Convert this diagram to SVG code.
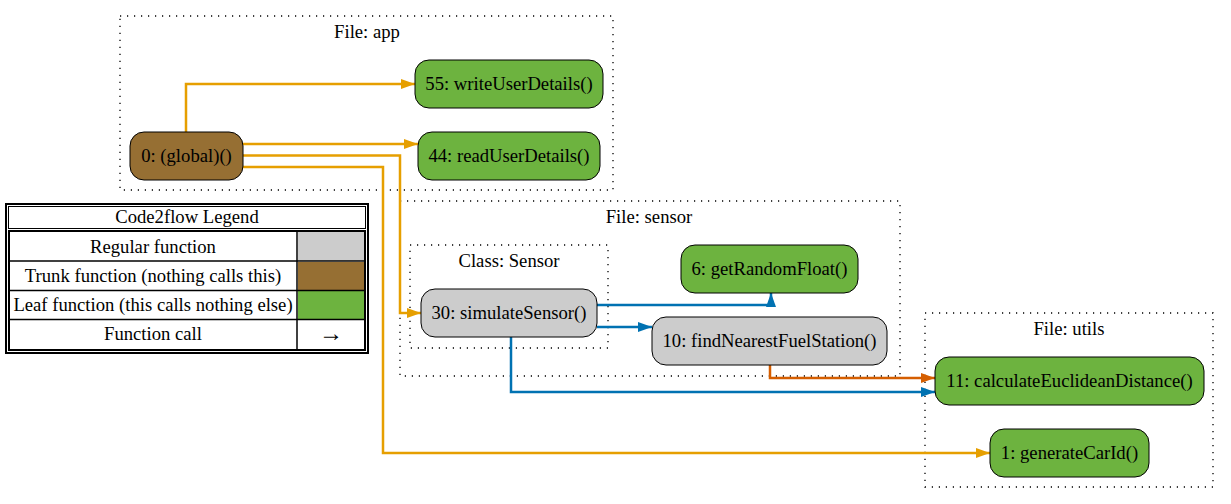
<svg xmlns="http://www.w3.org/2000/svg" width="1231" height="504" viewBox="0 0 1231 504" font-family="Liberation Serif, Times New Roman, serif" font-size="18.67">
<style>
text{fill:#000;text-anchor:middle}
.cl{fill:none;stroke:#000;stroke-width:1.3;stroke-dasharray:1.2,5.8}
.n rect{stroke:#000;stroke-width:1}
.reg{fill:#cccccc}.trunk{fill:#966F33}.leaf{fill:#6db33f}
.e{fill:none;stroke-width:2.5}
.o{stroke:#E69F00}.b{stroke:#0072B2}.r{stroke:#D55E00}
</style>
<defs>
<marker id="ao" markerUnits="userSpaceOnUse" markerWidth="14" markerHeight="10" refX="14" refY="5" orient="auto"><path d="M0,0 L14,5 L0,10 z" fill="#E69F00"/></marker>
<marker id="ab" markerUnits="userSpaceOnUse" markerWidth="14" markerHeight="10" refX="14" refY="5" orient="auto"><path d="M0,0 L14,5 L0,10 z" fill="#0072B2"/></marker>
<marker id="ar" markerUnits="userSpaceOnUse" markerWidth="14" markerHeight="10" refX="14" refY="5" orient="auto"><path d="M0,0 L14,5 L0,10 z" fill="#D55E00"/></marker>
</defs>
<rect width="1231" height="504" fill="#fff"/>

<g id="clusters">
<rect class="cl" x="120" y="16" width="493" height="174"/>
<text x="367" y="38">File: app</text>
<rect class="cl" x="400" y="201" width="500" height="175"/>
<text x="649" y="223">File: sensor</text>
<rect class="cl" x="410" y="245" width="198" height="103"/>
<text x="509" y="267">Class: Sensor</text>
<rect class="cl" x="925" y="313" width="288" height="174"/>
<text x="1069" y="335">File: utils</text>
</g>

<g id="legend">
<rect x="6" y="204" width="362" height="149" fill="#fff" stroke="#000" stroke-width="2"/>
<rect x="8.5" y="206.5" width="357" height="22" fill="#fff" stroke="#000" stroke-width="1"/>
<text x="187" y="223">Code2flow Legend</text>
<rect x="9" y="231" width="356" height="119" fill="#fff" stroke="#000" stroke-width="2"/>
<rect x="298" y="232" width="66" height="29" fill="#cccccc"/>
<rect x="298" y="262" width="66" height="28" fill="#966F33"/>
<rect x="298" y="291" width="66" height="28" fill="#6db33f"/>
<g stroke="#000" stroke-width="1.5">
<line x1="9" y1="261" x2="365" y2="261"/>
<line x1="9" y1="290.5" x2="365" y2="290.5"/>
<line x1="9" y1="319.5" x2="365" y2="319.5"/>
<line x1="297" y1="231" x2="297" y2="350"/>
</g>
<text x="153" y="253">Regular function</text>
<text x="153" y="282">Trunk function (nothing calls this)</text>
<text x="153" y="311">Leaf function (this calls nothing else)</text>
<text x="153" y="340">Function call</text>
<text x="331" y="341" font-size="24">→</text>
</g>

<g id="connectors">
<path class="e o" d="M186,132 V84 H415" marker-end="url(#ao)"/>
<path class="e o" d="M243,144 H418" marker-end="url(#ao)"/>
<path class="e o" d="M243,155.5 H400 V313 H421" marker-end="url(#ao)"/>
<path class="e o" d="M243,167 H383 V453 H990" marker-end="url(#ao)"/>
<path class="e b" d="M597,305 H771 V293" marker-end="url(#ab)"/>
<path class="e b" d="M597,327 H652" marker-end="url(#ab)"/>
<path class="e b" d="M511,337 V392 H935" marker-end="url(#ab)"/>
<path class="e r" d="M770,365 V378 H935" marker-end="url(#ar)"/>
</g>

<g id="n0" class="n"><rect class="trunk" x="130" y="132" width="113" height="48" rx="14"/><text x="186.5" y="162">0: (global)()</text></g>
<g id="n55" class="n"><rect class="leaf" x="415" y="60" width="188" height="48" rx="14"/><text x="509" y="90">55: writeUserDetails()</text></g>
<g id="n44" class="n"><rect class="leaf" x="418" y="132" width="182" height="48" rx="14"/><text x="509" y="162">44: readUserDetails()</text></g>
<g id="n30" class="n"><rect class="reg" x="421" y="289" width="176" height="48" rx="14"/><text x="509" y="319">30: simulateSensor()</text></g>
<g id="n6" class="n"><rect class="leaf" x="681" y="245" width="177" height="48" rx="14"/><text x="769.5" y="275">6: getRandomFloat()</text></g>
<g id="n10" class="n"><rect class="reg" x="652" y="317" width="235" height="48" rx="14"/><text x="769.5" y="347">10: findNearestFuelStation()</text></g>
<g id="n11" class="n"><rect class="leaf" x="935" y="357" width="269" height="48" rx="14"/><text x="1069.5" y="387">11: calculateEuclideanDistance()</text></g>
<g id="n1" class="n"><rect class="leaf" x="990" y="429" width="159" height="48" rx="14"/><text x="1069.5" y="459">1: generateCarId()</text></g>
</svg>
